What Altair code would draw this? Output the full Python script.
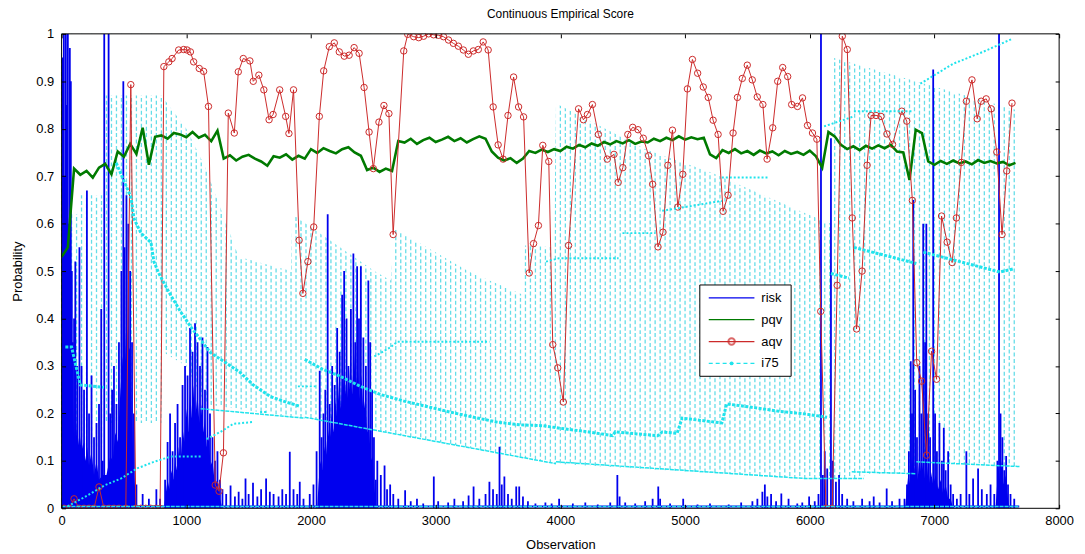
import altair as alt
import pandas as pd

# ---------------- data ----------------
# aqv (red, circle markers): (observation, probability)
AQV = [(20,0.0),(60,0.0),(100,0.02),(140,0.0),(180,0.0),(220,0.0),(260,0.0),(300,0.045),(340,0.0),
       (380,0.0),(420,0.0),(460,0.0),(515,0.0),(555,0.893),(595,0.0),(635,0.0),(675,0.0),(715,0.0),
       (755,0.0),(790,0.0),(820,0.931),(860,0.941),(886,0.948),(939,0.966),(979,0.967),(1006,0.966),
       (1033,0.962),(1059,0.941),(1104,0.927),(1139,0.921),(1178,0.847),(1232,0.049),(1263,0.036),
       (1298,0.117),(1337,0.833),(1385,0.791),(1417,0.92),(1457,0.948),(1510,0.943),(1537,0.9),
       (1582,0.913),(1622,0.882),(1664,0.819),(1696,0.83),(1749,0.882),(1797,0.826),(1823,0.79),
       (1860,0.882),(1905,0.565),(1935,0.453),(1975,0.52),(2022,0.593),(2067,0.826),(2102,0.922),
       (2147,0.973),(2187,0.981),(2227,0.962),(2267,0.953),(2306,0.955),(2346,0.971),(2386,0.959),
       (2426,0.887),(2466,0.793),(2500,0.716),(2545,0.814),(2585,0.849),(2625,0.832),(2659,0.577),
       (2744,0.964),(2776,0.999),(2824,0.994),(2864,0.992),(2903,0.995),(2943,1.0),(2983,0.998),
       (3023,0.997),(3063,0.994),(3103,0.987),(3142,0.98),(3182,0.974),(3222,0.966),(3262,0.957),
       (3302,0.964),(3342,0.967),(3381,0.983),(3421,0.966),(3461,0.846),(3501,0.766),(3541,0.736),
       (3580,0.828),(3625,0.909),(3665,0.846),(3705,0.825),(3750,0.496),(3785,0.558),(3824,0.596),
       (3859,0.765),(3907,0.731),(3939,0.345),(3979,0.296),(4024,0.224),(4066,0.554),(4146,0.842),
       (4185,0.819),(4217,0.83),(4257,0.851),(4305,0.788),(4376,0.736),(4430,0.746),(4464,0.687),
       (4501,0.718),(4541,0.788),(4580,0.803),(4623,0.798),(4665,0.78),(4708,0.743),(4740,0.683),
       (4783,0.551),(4823,0.582),(4862,0.723),(4899,0.797),(4942,0.635),(4982,0.704),(5019,0.884),
       (5059,0.946),(5101,0.917),(5146,0.888),(5186,0.866),(5225,0.818),(5265,0.788),(5305,0.626),
       (5345,0.66),(5385,0.791),(5420,0.866),(5459,0.906),(5499,0.934),(5539,0.903),(5579,0.867),
       (5624,0.851),(5658,0.736),(5703,0.802),(5743,0.9),(5783,0.929),(5823,0.91),(5855,0.851),
       (5902,0.847),(5942,0.865),(5982,0.807),(6022,0.791),(6057,0.778),(6088,0.415),(6130,0.0),
       (6180,0.0),(6220,0.47),(6261,0.995),(6301,0.967),(6341,0.612),(6375,0.378),(6420,0.5),
       (6460,0.723),(6492,0.828),(6531,0.828),(6571,0.826),(6619,0.789),(6664,0.767),(6738,0.837),
       (6778,0.816),(6823,0.649),(6858,0.307),(6897,0.268),(6937,0.112),(6977,0.331),(7017,0.272),
       (7057,0.616),(7102,0.561),(7142,0.518),(7176,0.612),(7216,0.729),(7256,0.858),(7301,0.903),
       (7343,0.821),(7375,0.858),(7415,0.863),(7455,0.842),(7500,0.751),(7542,0.577),(7580,0.711),
       (7622,0.854)]

# pqv (green): (observation, probability)
PQV = [(0,0.53),(50,0.55),(100,0.716),(150,0.703),(200,0.711),(250,0.697),(300,0.718),(350,0.726),
       (400,0.704),(450,0.752),(500,0.741),(550,0.768),(600,0.747),(650,0.802),(700,0.724),(750,0.783),
       (800,0.786),(850,0.779),(900,0.791),(950,0.788),(1000,0.782),(1050,0.793),(1100,0.781),
       (1150,0.787),(1200,0.774),(1250,0.796),(1300,0.737),(1350,0.744),(1400,0.733),(1450,0.741),
       (1500,0.745),(1550,0.737),(1600,0.731),(1650,0.722),(1700,0.742),(1750,0.739),(1800,0.746),
       (1850,0.735),(1900,0.743),(1950,0.737),(2000,0.757),(2050,0.749),(2100,0.759),(2150,0.753),
       (2200,0.748),(2250,0.757),(2300,0.761),(2350,0.75),(2400,0.743),(2450,0.713),(2500,0.718),
       (2550,0.709),(2600,0.716),(2650,0.711),(2700,0.774),(2750,0.771),(2800,0.779),(2850,0.768),
       (2900,0.776),(2950,0.781),(3000,0.772),(3050,0.777),(3100,0.783),(3150,0.774),(3200,0.78),
       (3250,0.771),(3300,0.778),(3350,0.784),(3400,0.779),(3450,0.752),(3500,0.739),(3550,0.733),
       (3600,0.738),(3650,0.728),(3700,0.737),(3750,0.753),(3800,0.749),(3850,0.756),(3900,0.751),
       (3950,0.757),(4000,0.753),(4050,0.762),(4100,0.758),(4150,0.766),(4200,0.761),(4250,0.769),
       (4300,0.764),(4350,0.772),(4400,0.767),(4450,0.774),(4500,0.769),(4550,0.776),(4600,0.768),
       (4650,0.773),(4700,0.771),(4750,0.779),(4800,0.774),(4850,0.781),(4900,0.776),(4950,0.784),
       (5000,0.777),(5050,0.782),(5100,0.778),(5150,0.781),(5200,0.746),(5250,0.738),(5300,0.755),
       (5350,0.749),(5400,0.757),(5450,0.748),(5500,0.753),(5550,0.745),(5600,0.754),(5650,0.748),
       (5700,0.752),(5750,0.744),(5800,0.753),(5850,0.747),(5900,0.751),(5950,0.745),(6000,0.754),
       (6050,0.742),(6100,0.718),(6150,0.793),(6200,0.784),(6250,0.766),(6300,0.757),(6350,0.763),
       (6400,0.755),(6450,0.764),(6500,0.758),(6550,0.765),(6600,0.759),(6650,0.766),(6700,0.752),
       (6750,0.75),(6800,0.692),(6850,0.798),(6900,0.791),(6950,0.731),(7000,0.724),(7050,0.732),
       (7100,0.726),(7150,0.733),(7200,0.727),(7250,0.731),(7300,0.725),(7350,0.734),(7400,0.728),
       (7450,0.732),(7500,0.727),(7550,0.73),(7600,0.723),(7650,0.728)]

# risk (blue): spikes (observation, height) and the filled body of each burst
RISK_SPIKES = [(10,0.95),(18,1.0),(26,0.7),(34,1.0),(42,0.85),(50,1.0),(58,0.6),(66,0.97),(74,0.9),
       (82,0.5),(90,0.35),(100,0.4),(110,0.52),(125,0.3),(143,0.55),(160,0.3),(180,0.25),(203,0.67),
       (220,0.2),(240,0.28),(260,0.15),(280,0.18),(300,0.22),(318,0.42),(330,0.1),(342,1.0),(377,1.0),
       (390,0.2),(405,0.25),(420,0.3),(440,0.22),(460,0.35),(480,0.5),(495,0.9),(505,0.55),(520,0.66),
       (535,0.6),(550,0.5),(565,0.35),(580,0.2),(600,0.05),(650,0.03),(700,0.02),(760,0.04),(790,0.02),
       (830,0.06),(850,0.14),(870,0.2),(890,0.12),(910,0.18),(930,0.22),(950,0.15),(970,0.26),
       (990,0.3),(1010,0.28),(1030,0.38),(1050,0.33),(1070,0.39),(1090,0.35),(1110,0.3),(1130,0.36),
       (1150,0.25),(1170,0.34),(1190,0.2),(1210,0.15),(1230,0.1),(1250,0.12),(1270,0.06),(1290,0.04),
       (1320,0.03),(1355,0.048),(1390,0.025),(1420,0.035),(1450,0.02),(1475,0.063),(1500,0.03),
       (1535,0.054),(1570,0.025),(1600,0.04),(1640,0.063),(1670,0.035),(1700,0.03),(1740,0.025),
       (1770,0.04),(1800,0.03),(1830,0.119),(1860,0.04),(1890,0.03),(1910,0.056),(1940,0.02),
       (1990,0.03),(2020,0.05),(2045,0.12),(2070,0.29),(2085,0.15),(2100,0.2),(2115,0.25),(2134,0.62),
       (2150,0.22),(2170,0.3),(2190,0.26),(2210,0.38),(2230,0.33),(2250,0.45),(2266,0.5),(2285,0.4),
       (2300,0.3),(2320,0.42),(2340,0.537),(2355,0.35),(2370,0.51),(2385,0.4),(2400,0.51),(2420,0.36),
       (2440,0.3),(2460,0.48),(2475,0.35),(2490,0.25),(2505,0.15),(2520,0.06),(2532,0.1),(2560,0.07),
       (2590,0.09),(2610,0.04),(2635,0.05),(2660,0.03),(2700,0.02),(2755,0.038),(2800,0.015),
       (2850,0.02),(2900,0.01),(2985,0.067),(3020,0.015),(3100,0.012),(3150,0.02),(3220,0.015),
       (3264,0.027),(3304,0.046),(3350,0.02),(3400,0.03),(3431,0.056),(3460,0.04),(3490,0.03),
       (3512,0.13),(3530,0.05),(3551,0.067),(3580,0.03),(3610,0.02),(3646,0.046),(3670,0.046),
       (3700,0.025),(3740,0.015),(3800,0.01),(3880,0.012),(3930,0.01),(3990,0.02),(4100,0.01),
       (4200,0.012),(4300,0.008),(4400,0.012),(4457,0.07),(4475,0.025),(4520,0.012),(4600,0.01),
       (4680,0.015),(4740,0.02),(4785,0.046),(4800,0.02),(4880,0.01),(4985,0.02),(5100,0.008),
       (5200,0.01),(5350,0.008),(5450,0.012),(5540,0.015),(5580,0.02),(5620,0.035),(5640,0.05),
       (5660,0.025),(5690,0.03),(5730,0.015),(5772,0.031),(5830,0.02),(5900,0.01),(5940,0.012),
       (5995,0.025),(6040,0.015),(6070,0.03),(6090,1.0),(6105,0.07),(6120,0.12),(6140,0.084),
       (6170,0.78),(6185,0.1),(6210,0.056),(6235,0.07),(6260,0.03),(6300,0.02),(6350,0.015),
       (6420,0.02),(6480,0.015),(6513,0.025),(6560,0.012),(6617,0.042),(6660,0.015),(6720,0.02),
       (6760,0.02),(6780,0.05),(6795,0.12),(6810,0.31),(6820,0.2),(6830,0.65),(6845,0.25),(6860,0.15),
       (6880,0.3),(6895,0.2),(6910,0.6),(6925,0.35),(6935,0.6),(6950,0.2),(6965,0.15),(6990,0.925),
       (7005,0.2),(7020,0.12),(7040,0.18),(7060,0.1),(7075,0.17),(7090,0.08),(7110,0.12),(7130,0.05),
       (7150,0.03),(7180,0.02),(7210,0.03),(7256,0.12),(7280,0.03),(7310,0.063),(7350,0.084),
       (7380,0.04),(7420,0.03),(7450,0.05),(7480,0.03),(7505,0.1),(7518,1.0),(7530,0.2),(7545,0.15),
       (7560,0.08),(7575,0.11),(7590,0.05),(7610,0.03),(7640,0.02)]
RISK_BODY = [(0,0.3),(10,0.5),(20,0.45),(30,0.55),(40,0.5),(50,0.52),(60,0.42),(70,0.45),(80,0.32),
       (90,0.24),(100,0.15),(115,0.18),(130,0.13),(145,0.16),(160,0.12),(175,0.14),(190,0.1),
       (205,0.13),(220,0.09),(240,0.12),(260,0.07),(280,0.1),(300,0.06),(330,0.07),(360,0.07),
       (390,0.11),(410,0.1),(430,0.16),(450,0.14),(470,0.24),(490,0.32),(505,0.28),(520,0.4),
       (535,0.33),(550,0.34),(565,0.18),(580,0.07),(600,0.01),(620,0.0),(820,0.0),(835,0.03),
       (850,0.06),(865,0.04),(880,0.08),(895,0.06),(910,0.1),(925,0.08),(940,0.13),(955,0.1),
       (970,0.17),(985,0.14),(1000,0.21),(1015,0.16),(1030,0.25),(1045,0.19),(1060,0.26),(1075,0.2),
       (1090,0.24),(1105,0.18),(1120,0.22),(1135,0.16),(1150,0.19),(1165,0.13),(1180,0.15),(1195,0.09),
       (1210,0.1),(1230,0.05),(1250,0.06),(1270,0.02),(1290,0.0),(2050,0.0),(2060,0.05),(2075,0.1),
       (2090,0.08),(2105,0.13),(2120,0.11),(2135,0.17),(2150,0.14),(2165,0.2),(2180,0.16),(2195,0.23),
       (2210,0.19),(2225,0.27),(2240,0.21),(2255,0.3),(2270,0.23),(2285,0.28),(2300,0.22),
       (2315,0.31),(2330,0.24),(2345,0.33),(2360,0.25),(2375,0.3),(2390,0.23),(2405,0.28),
       (2420,0.2),(2435,0.23),(2450,0.16),(2465,0.18),(2480,0.1),(2495,0.11),(2510,0.04),(2525,0.0),
       (6765,0.0),(6775,0.03),(6790,0.07),(6805,0.05),(6820,0.11),(6835,0.07),(6850,0.1),(6865,0.06),
       (6880,0.11),(6895,0.07),(6910,0.1),(6925,0.06),(6940,0.09),(6955,0.05),(6970,0.08),(6990,0.05),
       (7010,0.07),(7030,0.04),(7050,0.06),(7070,0.03),(7090,0.05),(7110,0.02),(7130,0.02),(7150,0.0),
       (7490,0.0),(7500,0.04),(7512,0.09),(7525,0.06),(7540,0.1),(7555,0.05),(7570,0.07),(7585,0.03),
       (7600,0.0)]
RISK_FLOOR = [(0,0.004),(7680,0.004)]

# i75 (cyan): the zig-zag band is summarised by its upper and lower envelopes
I75_UPPER = [(0,0.62),(130,0.62),(135,0.66),(330,0.66),(335,0.87),(800,0.87),(1000,0.80),(1150,0.72),
       (1250,0.65),(1350,0.58),(1420,0.53),(1840,0.50),(1850,0.62),(2508,0.50),(2640,0.48),(2667,0.59),
       (3272,0.498),(3700,0.45),(3715,0.554),(3950,0.55),(3965,0.853),(4682,0.757),(5215,0.707),
       (5955,0.623),(6170,0.60),(6180,0.95),(6850,0.90),(7650,0.84)]
I75_LOWER = [(0,0.13),(330,0.13),(335,0.18),(800,0.18),(810,0.33),(1000,0.30),(1150,0.22),(1400,0.21),
       (1940,0.19),(1950,0.192),(3965,0.094),(5955,0.063),(6433,0.063),(6440,0.073),(6850,0.073),
       (6855,0.098),(7650,0.088)]
# i75 marker trails: heavy dotted trails, thin solid trails, cross-like trails
I75_DOTS = {
    "c0": [(30,0.34),(80,0.34),(150,0.26),(340,0.255)],
    "c1": [(438,0.728),(557,0.655),(581,0.61),(637,0.58),(717,0.56),(740,0.52),(780,0.495),(860,0.456),
           (955,0.414),(1035,0.383),(1194,0.328),(1298,0.31),(1433,0.286),(1537,0.26),(1672,0.236),
           (1800,0.224),(1911,0.215)],
    "c2": [(1950,0.314),(2094,0.293),(2237,0.278),(2396,0.257),(2556,0.24),(2747,0.226),(2954,0.213),
           (3113,0.203),(3304,0.192),(3487,0.182),(3670,0.176),(3861,0.174),(4045,0.167),(4228,0.161),
           (4419,0.153),(4440,0.161),(4780,0.153),(4817,0.161),(4936,0.158),(4976,0.19),(5295,0.18),
           (5334,0.22),(5533,0.213),(5740,0.205),(5955,0.199),(6139,0.192)],
    "c3": [(6170,0.495),(6314,0.485)],
    "c4": [(6354,0.55),(6855,0.516)],
    "c5": [(6911,0.54),(7524,0.498),(7640,0.505)],
}
I75_THIN = {
    "l0": [(1115,0.21),(1950,0.19)],
    "l1": [(1950,0.192),(3965,0.094)],
    "l2": [(3965,0.098),(5955,0.063),(6433,0.063)],
    "l3": [(6337,0.077),(6847,0.073)],
    "l4": [(6855,0.098),(7683,0.088)],
    "z0": [(0,0.004),(7680,0.004)],
}
I75_CROSS = {
    "p0": [(48,0.004),(207,0.027),(342,0.048),(478,0.063),(605,0.084),(740,0.098),(876,0.109),(1115,0.109)],
    "p1": [(1162,0.146),(1274,0.161),(1377,0.178),(1537,0.182)],
    "p2": [(1592,0.203),(1650,0.203)],
    "p3": [(1895,0.257),(2038,0.257)],
    "p4": [(2508,0.32),(2635,0.339),(2691,0.351),(3431,0.351)],
    "p5": [(3885,0.52),(3989,0.527),(4467,0.527)],
    "p6": [(4498,0.58),(4761,0.58)],
    "p7": [(4817,0.627),(5295,0.648)],
    "p8": [(5295,0.697),(5661,0.697)],
    "p9": [(6115,0.805),(6354,0.826)],
    "p10": [(6354,0.837),(6831,0.837)],
    "p11": [(6887,0.895),(7150,0.937),(7389,0.962),(7627,0.99)],
}
X_TICKS = [0, 1000, 2000, 3000, 4000, 5000, 6000, 7000, 8000]
Y_TICKS = [0, 0.1, 0.2, 0.3, 0.4, 0.5, 0.6, 0.7, 0.8, 0.9, 1]
LEGEND = ["risk", "pqv", "aqv", "i75"]

# ---------------- tables ----------------
def pairs(p):
    return pd.DataFrame(p, columns=["x", "y"])

def segs(d):
    return pd.DataFrame([(k, x, y) for k, pts in d.items() for x, y in pts], columns=["seg", "x", "y"])

aqv_df = pairs(AQV)
pqv_df = pairs(PQV)
spk_df = pairs(RISK_SPIKES)
body_df = pairs(RISK_BODY)
floor_df = pairs(RISK_FLOOR)
up_df = pairs(I75_UPPER)
lo_df = pairs(I75_LOWER)
dots_df = segs(I75_DOTS)
thin_df = segs(I75_THIN)
cross_df = segs(I75_CROSS)
one = pd.DataFrame({"k": [0]})

# ---------------- styling ----------------
FONT = "Liberation Sans"
BLUE, GREEN, RED = "#0000ee", "#007a00", "#cc2a2a"
CYAN, HATCH = "#1fe3ec", "#66dde8"
XS = alt.Scale(domain=[0, 8000], nice=False, zero=False)
YS = alt.Scale(domain=[0, 1], nice=False, zero=False)

def X(f="x:Q", axis=None):
    return alt.X(f, scale=XS, axis=axis)

def Y(f="y:Q", axis=None):
    return alt.Y(f, scale=YS, axis=axis)

ax_common = dict(tickSize=4, offset=-4, domain=False, grid=False, zindex=2,
                 tickColor="black", labelColor="black", titleColor="black")
AX_BOTTOM = alt.Axis(orient="bottom", values=X_TICKS, format="d", labelPadding=6,
                     title="Observation", titlePadding=12, labelFontSize=13, titleFontSize=13,
                     labelFont=FONT, titleFont=FONT, titleFontWeight="normal", labelFlush=False,
                     **ax_common)
AX_LEFT = alt.Axis(orient="left", values=Y_TICKS, format=".1~f", labelPadding=8,
                   title="Probability", titlePadding=11, labelFontSize=13, titleFontSize=13,
                   labelFont=FONT, titleFont=FONT, titleFontWeight="normal", labelFlush=False,
                   **ax_common)
AX_TOP = alt.Axis(orient="top", values=X_TICKS, labels=False, title=None, **ax_common)
AX_RIGHT = alt.Axis(orient="right", values=Y_TICKS, labels=False, title=None, **ax_common)

# ---------------- layers ----------------
def hatch_layer(start, off):
    return alt.Chart(alt.sequence(start, 7660, 80, as_="t")).mark_rule(
        color=HATCH, strokeWidth=1.3, strokeDash=[4, 2.5], strokeDashOffset=off).encode(
        x=X("t:Q"), y=alt.YDatum(0, type="quantitative", scale=YS, axis=None),
        y2=alt.Y2Datum(1))

hatch_a = hatch_layer(0, 0)
hatch_b = hatch_layer(40, 3)
mask_up = alt.Chart(up_df).mark_area(color="white", opacity=1).encode(
    x=X(axis=AX_BOTTOM), y=Y(axis=AX_LEFT), y2=alt.Y2Datum(1))
mask_lo = alt.Chart(lo_df).mark_area(color="white", opacity=1).encode(
    x=X(axis=AX_TOP), y=Y(axis=AX_RIGHT), y2=alt.Y2Datum(0))

risk_body = alt.Chart(body_df).mark_area(color=BLUE, opacity=1, clip=True).encode(
    x=X(), y=Y(), y2=alt.Y2Datum(0))
risk_spk = alt.Chart(spk_df).mark_rule(color=BLUE, strokeWidth=1.8, clip=True).encode(
    x=X(), y=Y(), y2=alt.Y2Datum(0))
risk_floor = alt.Chart(floor_df).mark_line(color=BLUE, strokeWidth=2, clip=True).encode(x=X(), y=Y())

pqv = alt.Chart(pqv_df).mark_line(color=GREEN, strokeWidth=2.6, clip=True).encode(x=X(), y=Y())

aqv_line = alt.Chart(aqv_df).mark_line(color=RED, strokeWidth=1, clip=True).encode(x=X(), y=Y())
aqv_pts = alt.Chart(aqv_df).mark_point(shape="circle", filled=False, color=RED, size=42,
                                       strokeWidth=1, opacity=1, clip=True).encode(x=X(), y=Y())

i75_dots = alt.Chart(dots_df).mark_line(color=CYAN, strokeWidth=3, strokeDash=[3, 1.5],
                                        clip=True).encode(x=X(), y=Y(), detail="seg:N")
i75_thin = alt.Chart(thin_df).mark_line(color=CYAN, strokeWidth=1.5, strokeDash=[4, 1],
                                        clip=True).encode(x=X(), y=Y(), detail="seg:N")
i75_cross = alt.Chart(cross_df).mark_line(color=CYAN, strokeWidth=2, strokeDash=[2, 2],
                                          clip=True).encode(x=X(), y=Y(), detail="seg:N")

frame = alt.Chart(one).mark_rect(filled=False, stroke="black", strokeWidth=1).encode(
    x=alt.XDatum(0, type="quantitative", scale=XS, axis=None), x2=alt.X2Datum(8000),
    y=alt.YDatum(0, type="quantitative", scale=YS, axis=None), y2=alt.Y2Datum(1))

# ---------------- legend (placed in plot pixels) ----------------
LX0, LX1, LMID, LTX = 652, 698, 675, 705
ROWS = [266, 288, 310, 332]
leg = [alt.Chart(one).mark_rect(fill="white", stroke="black", strokeWidth=1).encode(
    x=alt.value(643), x2=alt.value(735), y=alt.value(253), y2=alt.value(345))]
styles = [(BLUE, None), (GREEN, None), (RED, None), (CYAN, [4, 3])]
for (col, dash), yy, lab in zip(styles, ROWS, LEGEND):
    kw = dict(color=col, strokeWidth=1.2)
    if dash:
        kw["strokeDash"] = dash
    leg.append(alt.Chart(one).mark_rule(**kw).encode(
        x=alt.value(LX0), x2=alt.value(LX1), y=alt.value(yy)))
    leg.append(alt.Chart(one).mark_text(align="left", baseline="middle", fontSize=13, font=FONT,
                                        color="black").encode(
        x=alt.value(LTX), y=alt.value(yy), text=alt.value(lab)))
leg.append(alt.Chart(one).mark_point(shape="circle", filled=False, color=RED, size=42).encode(
    x=alt.value(LMID), y=alt.value(ROWS[2])))
leg.append(alt.Chart(one).mark_point(shape="circle", filled=True, color=CYAN, size=14, opacity=1).encode(
    x=alt.value(LMID), y=alt.value(ROWS[3])))

chart = alt.layer(
    hatch_a, hatch_b, mask_up, mask_lo, risk_body, risk_spk, risk_floor, pqv, aqv_line, aqv_pts,
    i75_thin, i75_cross, i75_dots, frame, *leg
).resolve_axis(x="independent", y="independent").properties(
    width=1005, height=478,
    title=alt.TitleParams("Continuous Empirical Score", fontSize=12, fontWeight="normal",
                          font=FONT, color="black", offset=7),
    padding={"left": 54, "top": 24, "right": 18, "bottom": 46},
    autosize=alt.AutoSizeParams(type="none"),
).configure_view(stroke=None)

chart.save("out.html", embed_options={"renderer": "svg", "actions": False})
